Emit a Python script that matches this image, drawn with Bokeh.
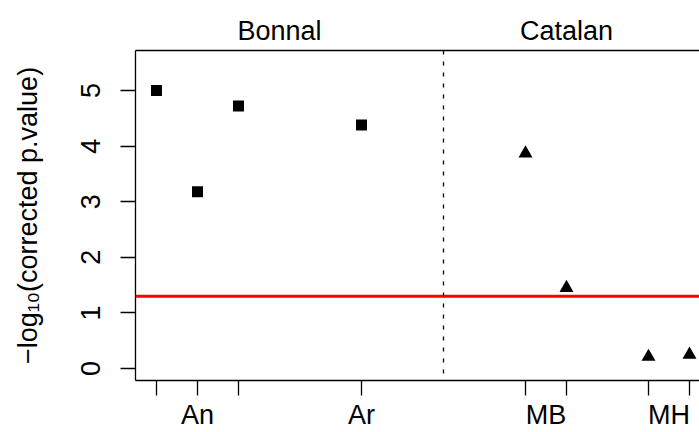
from bokeh.plotting import figure
from bokeh.models import FixedTicker, LinearAxis, Span, Range1d
from bokeh.embed import file_html
from bokeh.resources import INLINE

# ---- data ----
bonnal_x = [1, 2, 3, 6]
bonnal_y = [5.00, 3.18, 4.72, 4.38]
catalan_x = [10, 11, 13, 14]
catalan_y = [3.87, 1.45, 0.21, 0.25]
threshold = 1.30103          # -log10(0.05)
separator = 8
tick_positions = [1, 2, 3, 6, 10, 11, 13, 14]
label_positions = [2, 6, 10.5, 13.5]
label_texts = ["An", "Ar", "MB", "MH"]
group_names = ["Bonnal", "Catalan"]
group_centers = [4, 11]
y_ticks = [0, 1, 2, 3, 4, 5]

FONT = "Liberation Sans"
FS = "27px"

p = figure(width=699, height=432, output_backend="svg", toolbar_location=None,
           x_range=Range1d(0.488, 14.244), y_range=Range1d(-0.216, 5.72),
           x_axis_location=None, y_axis_location=None,
           min_border_left=135, min_border_top=50, min_border_bottom=52,
           min_border_right=0)
p.outline_line_color = None
p.xgrid.visible = False
p.ygrid.visible = False
p.background_fill_color = "white"
p.border_fill_color = "white"

# left axis
yax = LinearAxis(ticker=FixedTicker(ticks=y_ticks, minor_ticks=[]))
yax.major_tick_out = 15
yax.major_tick_in = 0
yax.minor_tick_out = 0
yax.major_label_orientation = "vertical"
yax.major_label_standoff = 20
yax.major_label_text_font = FONT
yax.major_label_text_font_size = FS
yax.major_label_text_color = "black"
yax.axis_line_width = 1.3
yax.major_tick_line_width = 1.3
yax.axis_label = "\u2212log\u2081\u2080(corrected p.value)"
yax.axis_label_text_font = FONT
yax.axis_label_text_font_size = FS
yax.axis_label_text_font_style = "normal"
yax.axis_label_text_color = "black"
yax.axis_label_standoff = 36
p.add_layout(yax, "left")

# bottom axis: minor ticks carry the tick marks, major ticks carry the labels
xax = LinearAxis(ticker=FixedTicker(ticks=label_positions, minor_ticks=tick_positions))
xax.major_tick_out = 0
xax.major_tick_in = 0
xax.minor_tick_out = 15
xax.minor_tick_in = 0
xax.minor_tick_line_width = 1.3
xax.minor_tick_line_color = "black"
xax.axis_line_width = 1.3
xax.major_label_overrides = {k: t for k, t in zip(label_positions, label_texts)}
xax.major_label_standoff = 4
xax.major_label_text_font = FONT
xax.major_label_text_font_size = FS
xax.major_label_text_color = "black"
p.add_layout(xax, "below")

# top axis: box line plus the group titles
tax = LinearAxis(ticker=FixedTicker(ticks=group_centers, minor_ticks=[]))
tax.major_tick_out = 0
tax.major_tick_in = 0
tax.minor_tick_out = 0
tax.minor_tick_in = 0
tax.major_label_overrides = {k: t for k, t in zip(group_centers, group_names)}
tax.major_label_standoff = 5
tax.major_label_text_font = FONT
tax.major_label_text_font_size = FS
tax.major_label_text_color = "black"
tax.axis_line_width = 1.3
p.add_layout(tax, "above")

# threshold and separator
p.add_layout(Span(location=threshold, dimension="width", line_color="red", line_width=3))
p.add_layout(Span(location=separator, dimension="height", line_color="black",
                  line_width=1.3, line_dash="4 7"))

# points
p.scatter(x=bonnal_x, y=bonnal_y, marker="square", size=11, fill_color="black", line_color=None)
p.scatter(x=catalan_x, y=catalan_y, marker="triangle", size=14, fill_color="black", line_color=None)

open("out.html", "w").write(file_html(p, INLINE))
